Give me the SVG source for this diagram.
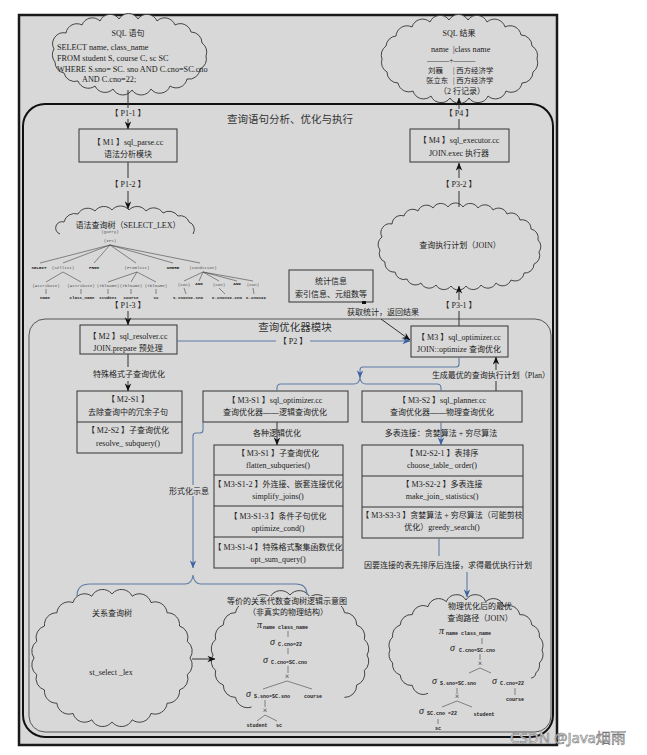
<svg xmlns="http://www.w3.org/2000/svg" width="647" height="755" viewBox="0 0 647 755">
<defs>
<style>
.t{font-family:"Liberation Serif","Noto Sans CJK SC",serif;font-size:8px;fill:#222;text-anchor:middle}
.s{font-family:"Liberation Serif","Noto Sans CJK SC",serif;font-size:8.2px;fill:#222}
.r{font-family:"Liberation Serif","Noto Sans CJK SC",serif;font-size:7.4px;fill:#222}
.h{font-family:"Noto Sans CJK SC",sans-serif;font-size:10.5px;fill:#333;text-anchor:middle}
.ln{stroke:#333;stroke-width:1;fill:none}
.bl{stroke:#5d7ba6;stroke-width:1.1;fill:none}
.bx{fill:#d8d8d8;stroke:#333;stroke-width:1}
.cl{fill:#d8d8d8;stroke:#333;stroke-width:0.9}
.co{fill:none;stroke:#333;stroke-width:0.9}
.tk{font-family:"Liberation Mono",monospace;font-size:4.2px;font-weight:bold;fill:#222;text-anchor:middle}
.tg{font-family:"Liberation Mono",monospace;font-size:4.2px;fill:#555;text-anchor:middle}
.tl{stroke:#444;stroke-width:0.6;fill:none}
.sg{font-family:"Liberation Serif",serif;font-style:italic;font-size:10px;fill:#222}
.sb{font-family:"Liberation Mono",monospace;font-size:5px;font-weight:bold;fill:#222}
.bg{fill:#d8d8d8}
</style>
<marker id="ak" viewBox="0 0 10 8" refX="9.5" refY="4" markerWidth="8" markerHeight="7" markerUnits="userSpaceOnUse" orient="auto"><path d="M0,0 L10,4 L0,8 L3,4 z" fill="#111"/></marker>
<marker id="ab" viewBox="0 0 10 8" refX="9.5" refY="4" markerWidth="8" markerHeight="7" markerUnits="userSpaceOnUse" orient="auto"><path d="M0,0 L10,4 L0,8 L3,4 z" fill="#3f62a3"/></marker>
</defs>
<rect x="0" y="0" width="647" height="755" fill="#ffffff"/>
<rect x="19" y="15" width="538" height="730" fill="#d8d8d8" stroke="#1a1a1a" stroke-width="2.5"/>

<g id="frame-outer">
<rect x="23" y="104" width="530" height="633" rx="22" fill="none" stroke="#111" stroke-width="2"/>
<text class="h" x="290" y="123">查询语句分析、优化与执行</text>
</g>
<g id="frame-inner">
<rect x="29" y="319" width="522" height="413" rx="16" fill="none" stroke="#555" stroke-width="1"/>
<text class="h" x="295" y="331">查询优化器模块</text>
</g>

<g id="sql-cloud">
<path class="cl" d="M66 33 A11 11 0 0 1 82 25 A11 11 0 0 1 100 21 A11 11 0 0 1 119 19 A11 11 0 0 1 138 19 A11 11 0 0 1 157 21 A11 11 0 0 1 175 25 A11 11 0 0 1 191 32 A11 11 0 0 1 202 43 A11 11 0 0 1 206 56 A11 11 0 0 1 200 69 A11 11 0 0 1 187 79 A11 11 0 0 1 170 86 A11 11 0 0 1 151 89 A11 11 0 0 1 132 90 A11 11 0 0 1 113 89 A11 11 0 0 1 95 86 A11 11 0 0 1 78 81 A11 11 0 0 1 64 73 A11 11 0 0 1 55 62 A11 11 0 0 1 54 49 A11 11 0 0 1 66 33 Z"/>
<text class="t" x="128" y="36">SQL 语句</text>
<text class="s" x="57" y="50">SELECT name, class_name</text>
<text class="s" x="57" y="61">FROM student S, course C, sc SC</text>
<text class="s" x="57" y="72">WHERE S.sno= SC. sno AND C.cno=SC.cno</text>
<text class="s" x="82" y="82">AND C.cno=22;</text>
</g>

<g id="result-cloud">
<path class="cl" d="M396 36 A11 11 0 0 1 412 27 A11 11 0 0 1 430 22 A11 11 0 0 1 449 20 A11 11 0 0 1 468 20 A11 11 0 0 1 487 22 A11 11 0 0 1 505 27 A11 11 0 0 1 521 35 A11 11 0 0 1 532 46 A11 11 0 0 1 537 59 A11 11 0 0 1 533 72 A11 11 0 0 1 522 83 A11 11 0 0 1 506 91 A11 11 0 0 1 488 96 A11 11 0 0 1 469 98 A11 11 0 0 1 450 98 A11 11 0 0 1 431 96 A11 11 0 0 1 413 91 A11 11 0 0 1 398 83 A11 11 0 0 1 387 72 A11 11 0 0 1 382 59 A11 11 0 0 1 386 46 A11 11 0 0 1 396 36 Z"/>
<text class="t" x="459" y="36">SQL 结果</text>
<text class="s" x="431" y="52">name</text>
<text class="s" x="453" y="52">|class  name</text>
<text class="r" x="427" y="63">———+———</text>
<text class="r" x="428" y="73">刘巍</text>
<text class="r" x="453" y="73">| 西方经济学</text>
<text class="r" x="426" y="83">张立东</text>
<text class="r" x="453" y="83">| 西方经济学</text>
<text class="t" x="462" y="94">（2 行记录）</text>
</g>

<g id="m1">
<rect class="bx" x="79" y="129" width="98" height="33" stroke-width="2.5" stroke="#111"/>
<text class="t" x="128" y="145">【 M1 】sql_parse.cc</text>
<text class="t" x="128" y="157">语法分析模块</text>
</g>

<g id="syntax-tree">
<path class="co" d="M60 234 A6 6 0 0 1 64 222 A11 11 0 0 1 78 214 A11 11 0 0 1 95 211 A11 11 0 0 1 112 210 A11 11 0 0 1 129 210 A11 11 0 0 1 146 211 A11 11 0 0 1 163 213 A11 11 0 0 1 178 216 A9 9 0 0 1 189 222 A8 8 0 0 1 193 234"/>
<text class="t" x="128" y="228">语法查询树（SELECT_LEX）</text>
<text class="tg" x="110" y="233">(Query)</text>
<text class="tg" x="110" y="242">(IPS)</text>
<path class="tl" d="M110 245 L40 263 M110 245 L63 263 M110 245 L94 263 M110 245 L136 263 M110 245 L173 263 M110 245 L200 263 M63 272 L46 282 M63 272 L81 282 M46 289 L46 294 M81 289 L81 294 M137 272 L108 282 M137 272 L131 282 M137 272 L156 282 M108 289 L108 294 M131 289 L131 294 M156 289 L156 294 M203 272 L184 281 M203 272 L199 281 M203 272 L219 281 M203 272 L237 281 M203 272 L253 281 M184 288 L186 294 M219 288 L225 294 M253 288 L254 294"/>
<text class="tk" x="39" y="269">SELECT</text>
<text class="tg" x="63" y="269">(Sellist)</text>
<text class="tk" x="94" y="269">FROM</text>
<text class="tg" x="137" y="269">(Fromlist)</text>
<text class="tk" x="173" y="269">WHERE</text>
<text class="tg" x="203" y="269">(Condition)</text>
<text class="tg" x="46" y="287">(Attribute)</text>
<text class="tg" x="81" y="287">(Attribute)</text>
<text class="tk" x="45" y="299">name</text>
<text class="tk" x="82" y="299">class_name</text>
<text class="tg" x="108" y="287">(TblName)</text>
<text class="tg" x="131" y="287">(TblName)</text>
<text class="tg" x="156" y="287">(TblName)</text>
<text class="tk" x="108" y="299">student</text>
<text class="tk" x="131" y="299">course</text>
<text class="tk" x="156" y="299">sc</text>
<text class="tg" x="184" y="286">(Con)</text>
<text class="tk" x="199" y="285">AND</text>
<text class="tg" x="219" y="286">(Con)</text>
<text class="tk" x="237" y="285">AND</text>
<text class="tg" x="253" y="286">(Con)</text>
<text class="tk" x="188" y="299">S.sno=SC.sno</text>
<text class="tk" x="227" y="299">C.cno=SC.cno</text>
<text class="tk" x="256" y="299">C.cno=22</text>
</g>

<g id="m4">
<rect class="bx" x="410" y="129" width="99" height="33" stroke-width="2" stroke="#111"/>
<text class="t" x="459" y="143">【 M4 】sql_executor.cc</text>
<text class="t" x="459" y="156">JOIN.exec 执行器</text>
</g>

<g id="plan-cloud">
<path class="cl" d="M392 224 A9 9 0 0 1 404 216 A9 9 0 0 1 418 211 A9 9 0 0 1 433 208 A9 9 0 0 1 448 207 A9 9 0 0 1 463 207 A9 9 0 0 1 478 208 A9 9 0 0 1 493 210 A9 9 0 0 1 507 214 A9 9 0 0 1 520 220 A9 9 0 0 1 531 229 A9 9 0 0 1 538 240 A9 9 0 0 1 539 252 A9 9 0 0 1 534 264 A9 9 0 0 1 524 273 A9 9 0 0 1 511 280 A9 9 0 0 1 496 283 A9 9 0 0 1 481 285 A9 9 0 0 1 466 286 A9 9 0 0 1 451 286 A9 9 0 0 1 436 285 A9 9 0 0 1 421 283 A9 9 0 0 1 407 279 A9 9 0 0 1 395 272 A9 9 0 0 1 385 262 A9 9 0 0 1 380 250 A9 9 0 0 1 382 237 A9 9 0 0 1 392 224 Z"/>
<text class="t" x="460" y="248">查询执行计划（JOIN）</text>
</g>

<g id="stats">
<rect class="bx" x="289" y="270" width="84" height="32"/>
<text class="t" x="331" y="284">统计信息</text>
<text class="t" x="331" y="297">索引信息、元组数等</text>
<rect x="362" y="301" width="4" height="3" fill="#111"/>
</g>

<g id="m2">
<rect class="bx" x="80" y="325" width="97" height="29" stroke-width="2.5" stroke="#111"/>
<text class="t" x="128" y="339">【 M2 】sql_resolver.cc</text>
<text class="t" x="128" y="351">JOIN.prepare 预处理</text>
</g>

<g id="m3">
<rect class="bx" x="411" y="326" width="97" height="31" stroke-width="1.2"/>
<text class="t" x="459" y="340">【 M3 】sql_optimizer.cc</text>
<text class="t" x="459" y="352">JOIN::optimize 查询优化</text>
</g>

<g id="m2-s">
<rect class="bx" x="77" y="391" width="105" height="62"/>
<line class="ln" x1="77" y1="422" x2="182" y2="422"/>
<text class="t" x="128" y="402">【 M2-S1 】</text>
<text class="t" x="128" y="415">去除查询中的冗余子句</text>
<text class="t" x="128" y="433">【 M2-S2 】子查询优化</text>
<text class="t" x="128" y="446">resolve_ subquery()</text>
</g>

<g id="m3-s1">
<rect class="bx" x="203" y="391" width="145" height="31"/>
<text class="t" x="275" y="403">【 M3-S1 】sql_optimizer.cc</text>
<text class="t" x="275" y="415">查询优化器——逻辑查询优化</text>
</g>

<g id="m3-s2">
<rect class="bx" x="362" y="391" width="160" height="31"/>
<text class="t" x="442" y="403">【 M3-S2 】sql_planner.cc</text>
<text class="t" x="442" y="415">查询优化器——物理查询优化</text>
</g>

<g id="m3-s1-stack">
<rect class="bx" x="214" y="445" width="129" height="123"/>
<line class="ln" x1="214" y1="475" x2="343" y2="475"/>
<line class="ln" x1="214" y1="506" x2="343" y2="506" stroke-width="2"/>
<line class="ln" x1="214" y1="537" x2="343" y2="537"/>
<text class="t" x="278" y="456">【 M3-S1 】子查询优化</text>
<text class="t" x="278" y="468">flatten_subqueries()</text>
<text class="t" x="278" y="487">【 M3-S1-2 】外连接、嵌套连接优化</text>
<text class="t" x="278" y="499">simplify_joins()</text>
<text class="t" x="278" y="519">【 M3-S1-3 】条件子句优化</text>
<text class="t" x="278" y="531">optimize_cond()</text>
<text class="t" x="278" y="550">【 M3-S1-4 】特殊格式聚集函数优化</text>
<text class="t" x="278" y="562">opt_sum_query()</text>
</g>

<g id="m3-s2-stack">
<rect class="bx" x="362" y="445" width="161" height="93"/>
<line class="ln" x1="362" y1="476" x2="523" y2="476"/>
<line class="ln" x1="362" y1="507" x2="523" y2="507" stroke-width="2"/>
<text class="t" x="442" y="456">【 M2-S2-1 】表排序</text>
<text class="t" x="442" y="468">choose_table_ order()</text>
<text class="t" x="442" y="487">【 M3-S2-2 】多表连接</text>
<text class="t" x="442" y="499">make_join_ statistics()</text>
<text class="t" x="442" y="518">【 M3-S3-3 】贪婪算法 + 穷尽算法（可能剪枝</text>
<text class="t" x="442" y="530">优化）greedy_search()</text>
</g>

<g id="relation-cloud">
<path class="cl" d="M190 658 A12 12 0 0 1 187.3 674.6 A12 12 0 0 1 179.5 690 A12 12 0 0 1 167.1 703.2 A12 12 0 0 1 151 713.4 A12 12 0 0 1 132.2 719.8 A12 12 0 0 1 112 722 A12 12 0 0 1 91.8 719.8 A12 12 0 0 1 73 713.4 A12 12 0 0 1 56.9 703.2 A12 12 0 0 1 44.5 690 A12 12 0 0 1 36.7 674.6 A12 12 0 0 1 34 658 A12 12 0 0 1 36.7 641.4 A12 12 0 0 1 44.5 626 A12 12 0 0 1 56.9 612.8 A12 12 0 0 1 73 602.6 A12 12 0 0 1 91.8 596.2 A12 12 0 0 1 112 594 A12 12 0 0 1 132.2 596.2 A12 12 0 0 1 151 602.6 A12 12 0 0 1 167.1 612.8 A12 12 0 0 1 179.5 626 A12 12 0 0 1 187.3 641.4 A12 12 0 0 1 190 658 Z"/>
<text class="t" x="112" y="616">关系查询树</text>
<text class="t" x="111" y="675">st_select _lex</text>
</g>

<g id="algebra-cloud">
<path class="co" d="M251.5 707 A12 12 0 0 1 235.6 697.4 A12 12 0 0 1 223.3 685 A12 12 0 0 1 215.6 670.5 A12 12 0 0 1 213 655 A12 12 0 0 1 215.6 639.5 A12 12 0 0 1 223.3 625 A12 12 0 0 1 235.6 612.6 A12 12 0 0 1 251.5 603 A12 12 0 0 1 270.1 597 A12 12 0 0 1 290 595 A12 12 0 0 1 309.9 597 A12 12 0 0 1 328.5 603 A12 12 0 0 1 344.4 612.6 A12 12 0 0 1 356.7 625 A12 12 0 0 1 364.4 639.5 A12 12 0 0 1 367 655 A12 12 0 0 1 364.4 670.5 A12 12 0 0 1 356.7 685 A12 12 0 0 1 344.4 697.4"/>
<rect class="bg" x="226" y="596" width="124" height="10"/>
<rect class="bg" x="246" y="607" width="84" height="11"/>
<text class="t" x="287" y="604">等价的关系代数查询树逻辑示意图</text>
<text class="t" x="288" y="615">（非真实的物理结构）</text>
<text class="sg" x="257" y="628">π</text><text class="sb" x="263" y="629">name class_name</text>
<line class="tl" x1="288" y1="631" x2="288" y2="637"/>
<text class="sg" x="270" y="645">σ</text><text class="sb" x="278" y="646">C.cno=22</text>
<line class="tl" x1="288" y1="648" x2="288" y2="654"/>
<text class="sg" x="263" y="663">σ</text><text class="sb" x="271" y="664">C.cno=SC.cno</text>
<line class="tl" x1="288" y1="666" x2="288" y2="673"/>
<text class="t" x="287" y="679">×</text>
<path class="tl" d="M287 681 L263 689 M287 681 L312 689"/>
<text class="sg" x="246" y="697">σ</text><text class="sb" x="254" y="698">S.sno=SC.sno</text>
<text class="sb" x="313" y="698" text-anchor="middle">course</text>
<line class="tl" x1="265" y1="700" x2="265" y2="707"/>
<text class="t" x="265" y="713">×</text>
<path class="tl" d="M265 715 L257 721 M265 715 L277 721"/>
<text class="sb" x="257" y="727" text-anchor="middle">student</text>
<text class="sb" x="279" y="727" text-anchor="middle">sc</text>
</g>

<g id="physical-cloud">
<path class="co" d="M428 693.3 A11 11 0 0 1 412.3 685.4 A11 11 0 0 1 400.2 675 A11 11 0 0 1 392.6 662.9 A11 11 0 0 1 390 650 A11 11 0 0 1 392.6 637.1 A11 11 0 0 1 400.2 625 A11 11 0 0 1 412.3 614.6 A11 11 0 0 1 428 606.7 A11 11 0 0 1 446.3 601.7 A11 11 0 0 1 466 600 A11 11 0 0 1 485.7 601.7 A11 11 0 0 1 504 606.7 A11 11 0 0 1 519.7 614.6 A11 11 0 0 1 531.8 625 A11 11 0 0 1 539.4 637.1 A11 11 0 0 1 542 650 A11 11 0 0 1 539.4 662.9 A11 11 0 0 1 535.8 673 A5 5 0 0 1 531 678"/>
<text class="t" x="480" y="609">物理优化后的最优</text>
<text class="t" x="480" y="621">查询路径（JOIN）</text>
<text class="sg" x="439" y="634">π</text><text class="sb" x="446" y="635">name class_name</text>
<line class="tl" x1="482" y1="638" x2="482" y2="644"/>
<text class="sg" x="450" y="651">σ</text><text class="sb" x="459" y="652">C.cno=SC.cno</text>
<line class="tl" x1="480" y1="654" x2="480" y2="660"/>
<text class="t" x="480" y="666">×</text>
<path class="tl" d="M480 668 L469 673 M480 668 L491 673"/>
<text class="sg" x="432" y="684">σ</text><text class="sb" x="440" y="685">S.sno=SC.sno</text>
<text class="sg" x="492" y="684">σ</text><text class="sb" x="500" y="685">C.cno=22</text>
<line class="tl" x1="515" y1="688" x2="515" y2="695"/>
<text class="sb" x="515" y="701" text-anchor="middle">course</text>
<line class="tl" x1="457" y1="688" x2="457" y2="694"/>
<text class="t" x="457" y="699">×</text>
<path class="tl" d="M457 701 L442 707 M457 701 L472 707"/>
<text class="sg" x="419" y="714">σ</text><text class="sb" x="427" y="715">SC.cno =22</text>
<text class="sb" x="484" y="716" text-anchor="middle">student</text>
<line class="tl" x1="438" y1="719" x2="438" y2="724"/>
<text class="sb" x="438" y="730" text-anchor="middle">sc</text>
</g>

<g id="connectors">
<line class="ln" x1="128" y1="90" x2="128" y2="108"/>
<text class="t" x="128" y="116">【 P1-1 】</text>
<line class="ln" x1="128" y1="119" x2="128" y2="129" marker-end="url(#ak)"/>
<line class="ln" x1="128" y1="162" x2="128" y2="178"/>
<text class="t" x="128" y="187">【 P1-2 】</text>
<line class="ln" x1="128" y1="191" x2="128" y2="209" marker-end="url(#ak)"/>
<text class="t" x="128" y="308">【 P1-3 】</text>
<line class="ln" x1="128" y1="311" x2="128" y2="325" marker-end="url(#ak)"/>
<line class="ln" x1="459" y1="129" x2="459" y2="119"/>
<text class="t" x="459" y="116">【 P4 】</text>
<line class="ln" x1="459" y1="109" x2="459" y2="98" marker-end="url(#ak)"/>
<line class="ln" x1="459" y1="207" x2="459" y2="191"/>
<text class="t" x="459" y="187">【 P3-2 】</text>
<line class="ln" x1="459" y1="178" x2="459" y2="163" marker-end="url(#ak)"/>
<line class="ln" x1="459" y1="326" x2="459" y2="311"/>
<text class="t" x="459" y="308">【 P3-1 】</text>
<line class="ln" x1="459" y1="300" x2="459" y2="286" marker-end="url(#ak)"/>
<text class="t" x="383" y="315">获取统计，返回结果</text>
<line class="ln" x1="381" y1="319" x2="410" y2="340" marker-end="url(#ak)"/>
<line class="bl" x1="177" y1="341" x2="410" y2="341" marker-end="url(#ab)"/>
<rect class="bg" x="276" y="336" width="34" height="10"/>
<text class="t" x="293" y="344">【 P2 】</text>
<line class="ln" x1="128" y1="354" x2="128" y2="367"/>
<text class="t" x="129" y="377">特殊格式子查询优化</text>
<line class="ln" x1="128" y1="381" x2="128" y2="391" marker-end="url(#ak)"/>
<path class="bl" d="M459 357 L459 364 Q459 367 456 367 L363 367 Q360 367 360 370 L360 378" marker-end="url(#ab)"/>
<path class="bl" d="M277 391 L277 388 Q277 384 281 384 L354 384 Q359 384 360 378 Q361 384 366 384 L437 384 Q441 384 441 388 L441 391"/>
<line class="ln" x1="496" y1="391" x2="496" y2="381"/>
<text class="t" x="491" y="378">生成最优的查询执行计划（Plan）</text>
<line class="ln" x1="496" y1="370" x2="496" y2="357" marker-end="url(#ak)"/>
<line class="ln" x1="277" y1="422" x2="277" y2="445" marker-end="url(#ak)"/>
<text class="t" x="277" y="436">各种逻辑优化</text>
<line class="bl" x1="441" y1="422" x2="441" y2="445" marker-end="url(#ab)"/>
<text class="t" x="441" y="436">多表连接：贪婪算法 + 穷尽算法</text>
<path class="bl" d="M203 422 L203 430 Q203 433 200 433 L196 433 Q193 433 193 436 L193 568" marker-end="url(#ab)"/>
<rect class="bg" x="169" y="485" width="40" height="11"/>
<text class="t" x="189" y="494">形式化示息</text>
<path class="bl" d="M77 596 Q77 584 90 584 L185 584 Q192 584 193 575 Q194 584 201 584 L296 584 Q307 584 307 595"/>
<line class="ln" x1="192" y1="659" x2="215" y2="659" marker-end="url(#ak)"/>
<line class="bl" x1="439" y1="538" x2="439" y2="556"/>
<text class="t" x="448" y="568">因要连接的表先排序后连接，求得最优执行计划</text>
<line class="bl" x1="467" y1="572" x2="467" y2="597" marker-end="url(#ab)"/>
</g>

<text x="510" y="743" font-family="'Noto Sans',sans-serif" font-size="15" fill="#f4f4f4" stroke="#777" stroke-width="0.6">CSDN @Java烟雨</text>
</svg>
